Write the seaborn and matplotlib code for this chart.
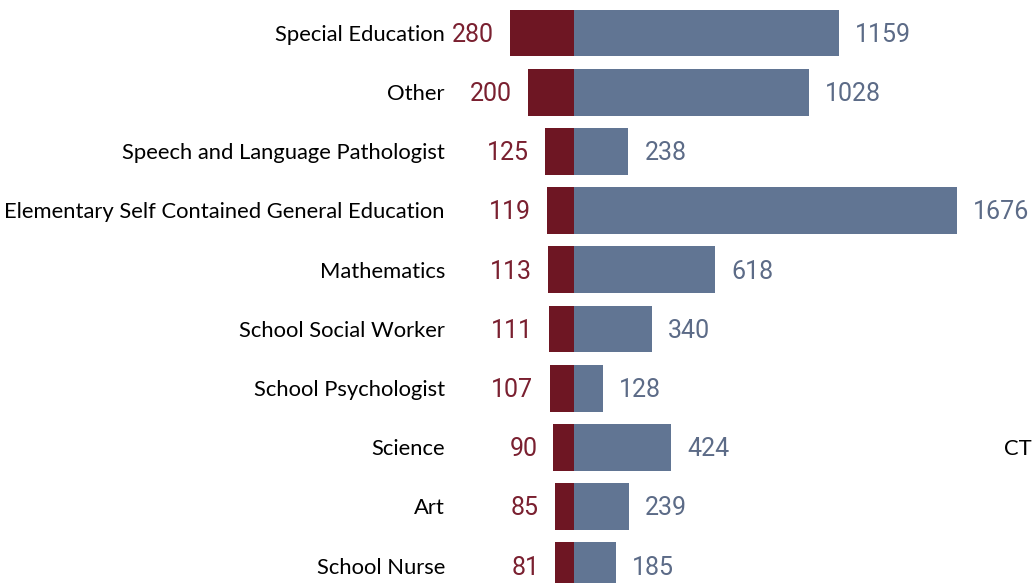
import matplotlib
matplotlib.use("Agg")
import matplotlib.pyplot as plt
import seaborn as sns
import pandas as pd
import numpy as np

categories = ["Special Education", "Other", "Speech and Language Pathologist",
              "Elementary Self Contained General Education", "Mathematics",
              "School Social Worker", "School Psychologist", "Science", "Art",
              "School Nurse"]
left_vals = [280, 200, 125, 119, 113, 111, 107, 90, 85, 81]
right_vals = [1159, 1028, 238, 1676, 618, 340, 128, 424, 239, 185]

red = "#6E1623"
blue = "#617593"
red_txt = "#7A2030"
blue_txt = "#5C6B87"

df = pd.DataFrame({"cat": categories, "left": left_vals, "right": right_vals})
df["neg"] = -df["left"]

sns.set_style("white")
fig = plt.figure(figsize=(10.35, 5.83), dpi=100)
ax = fig.add_axes([0, 0, 1, 1])

# left (red) and right (blue) halves of each bar
sns.barplot(data=df, x="neg", y="cat", color=red, width=0.79, ax=ax,
            saturation=1, orient="h", linewidth=0)
sns.barplot(data=df, x="right", y="cat", color=blue, width=0.79, ax=ax,
            saturation=1, orient="h", linewidth=0)

px = 383 / 1676.0  # pixels per unit
ax.set_xlim(-574 / px, (1035 - 574) / px)
ax.set_ylim(583 / 59.2 - 33 / 59.2, -33 / 59.2)
ax.axis("off")

gap = 16 / px
dy = 0.03
for i, row in df.iterrows():
    ax.text((445 - 574) / px, i + dy, row["cat"], ha="right", va="center",
            fontsize=15.8, family=["Lato", "DejaVu Sans"], color="black")
    ax.text(-row["left"] - gap, i + dy, str(row["left"]), ha="right", va="center",
            fontsize=18, family=["Roboto", "DejaVu Sans"],
            color=red_txt)
    ax.text(row["right"] + gap, i + dy, str(row["right"]), ha="left", va="center",
            fontsize=18, family=["Roboto", "DejaVu Sans"],
            color=blue_txt)

ax.text((1004 - 574) / px, 7 + dy, "CT", ha="left", va="center",
        fontsize=15.8, family=["Lato", "DejaVu Sans"], color="black")

fig.savefig("out.png", dpi=100)
